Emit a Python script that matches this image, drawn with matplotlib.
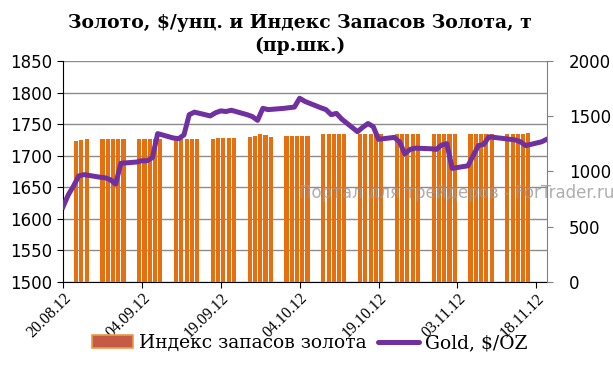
import numpy as np
import pandas as pd
import matplotlib
matplotlib.use("Agg")
import matplotlib.pyplot as plt
from matplotlib.patches import Patch
from matplotlib.lines import Line2D

# gold price, $/oz, every business day 20.08.12 - 20.11.12 (left axis)
gold_dates = pd.bdate_range("2012-08-20", "2012-11-20")
gold = [1619, 1638, 1652, 1668, 1670,
        1666, 1665, 1662, 1655, 1688,
        1690, 1692, 1692, 1697, 1735,
        1728, 1727, 1733, 1765, 1769,
        1763, 1768, 1771, 1770, 1772,
        1765, 1762, 1756, 1775, 1773,
        1775, 1776, 1777, 1791, 1786,
        1776, 1773, 1765, 1767, 1758,
        1738, 1745, 1751, 1746, 1726,
        1729, 1722, 1703, 1710, 1712,
        1711, 1710, 1717, 1719, 1680,
        1684, 1700, 1716, 1718, 1730,
        1727, 1726, 1725, 1722, 1716,
        1722, 1726]

# gold reserves index, t (right axis), 22.08.12 - 16.11.12
reserve_dates = gold_dates[2:-2]
reserves = [1280, 1282, 1290,
            1292, 1292, 1292, 1292, 1292,
            1292, 1292, 1292, 1292, 1292,
            1293, 1293, 1293, 1293, 1293,
            1296, 1305, 1306, 1306, 1306,
            1309, 1321, 1335, 1330, 1315,
            1320, 1320, 1320, 1320, 1320,
            1338, 1338, 1338, 1338, 1338,
            1338, 1338, 1338, 1338, 1338,
            1340, 1340, 1340, 1340, 1340,
            1340, 1340, 1340, 1340, 1340,
            1340, 1340, 1340, 1340, 1340,
            1340, 1340, 1340, 1340, 1352]

tick_dates = pd.date_range("2012-08-20", periods=7, freq="15D")
tick_labels = ["20.08.12", "04.09.12", "19.09.12", "04.10.12",
               "19.10.12", "03.11.12", "18.11.12"]
left_ticks = [1500, 1550, 1600, 1650, 1700, 1750, 1800, 1850]
right_ticks = [0, 500, 1000, 1500, 2000]

bar_color = "#E66F10"
line_color = "#7030A0"
serif = "Liberation Serif"

fig = plt.figure(figsize=(6.13, 3.65), dpi=100)
ax = fig.add_axes([0.1028, 0.2274, 0.7892, 0.6055])
ax2 = ax.twinx()   # bars, right scale
ax3 = ax.twinx()   # line, left scale, on top of the bars

x0 = pd.Timestamp("2012-08-20")
x1 = pd.Timestamp("2012-11-20")

# grid and left axis
ax.set_ylim(1500, 1850)
ax.set_yticks(left_ticks)
ax.grid(axis="y", color="#8C8C8C", lw=1)
ax.set_axisbelow(True)
ax.tick_params(axis="y", direction="out", length=4, labelsize=12, pad=4)
ax.set_xlim(x0, x1)
ax.set_xticks(tick_dates)
ax.set_xticklabels(tick_labels, rotation=45, ha="right", va="top",
                   rotation_mode="anchor", fontsize=11.5, fontfamily=serif)
ax.tick_params(axis="x", direction="out", length=4, pad=2)
ax.spines["top"].set_visible(False)
ax.spines["right"].set_visible(False)
ax.spines["left"].set_color("black")
ax.spines["bottom"].set_color("black")

# bars
ax2.bar(reserve_dates + pd.Timedelta(hours=12), reserves, width=0.78,
        color=bar_color, linewidth=0)
ax2.set_ylim(0, 2000)
ax2.set_yticks(right_ticks)
ax2.tick_params(axis="y", direction="out", length=4, labelsize=12, pad=12, color="#808080")
ax2.spines["right"].set_color("#808080")
for s in ["top", "left", "bottom"]:
    ax2.spines[s].set_visible(False)

# gold line
ax3.plot(gold_dates, gold, color=line_color, lw=3.6, solid_joinstyle="round")
ax3.set_ylim(1500, 1850)
ax3.set_xlim(x0, x1)
ax3.axis("off")

# title
fig.text(0.49, 0.938, "Золото, $/унц. и Индекс Запасов Золота, т",
         ha="center", va="center", fontsize=13.5, fontweight="bold", fontfamily="DejaVu Serif")
fig.text(0.49, 0.875, "(пр.шк.)", ha="center", va="center",
         fontsize=13.5, fontweight="bold", fontfamily="DejaVu Serif")

# watermark
fig.text(0.488, 0.472, "Портал для трейдеров - ForTrader.ru", ha="left", va="center",
         fontsize=12, color="#9A9A9A", alpha=0.8)

# legend
handles = [Patch(facecolor="#C55A45", edgecolor="#EE9A4A", linewidth=1.2),
           Line2D([0], [0], color=line_color, lw=3.6, solid_capstyle="round")]
fig.legend(handles, ["Индекс запасов золота", "Gold, $/OZ"], loc="center",
           bbox_to_anchor=(0.505, 0.06), ncol=2, frameon=False,
           prop={"family": "DejaVu Serif", "size": 13.5}, handlelength=2.2,
           handletextpad=0.3, columnspacing=0.6)

fig.savefig("out.png", dpi=100)
